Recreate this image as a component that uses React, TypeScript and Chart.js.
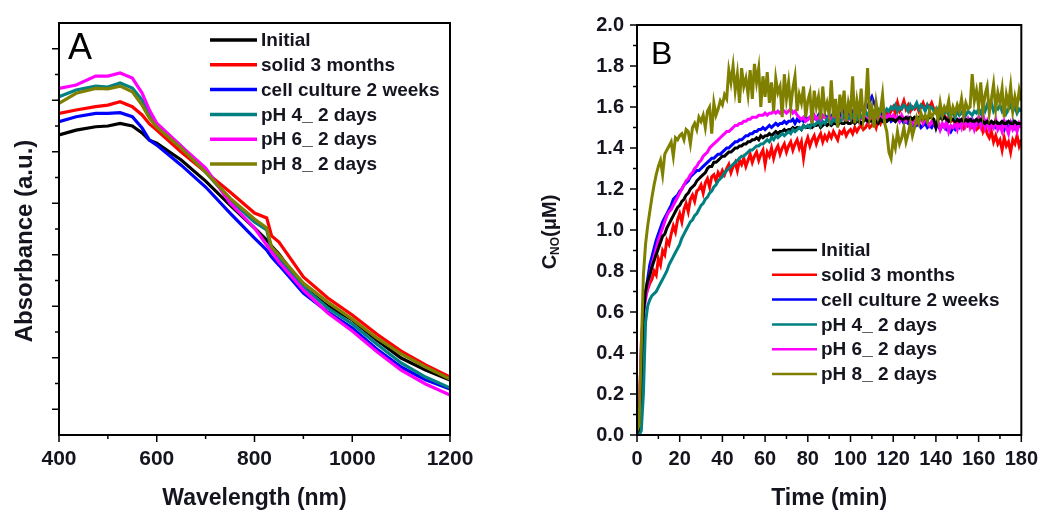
import React, { useEffect, useRef } from 'react';
import { Chart, registerables } from 'chart.js';

Chart.register(...registerables);

// ---------------- Panel A : absorbance spectra ----------------
const wavelengthNm = [400, 435, 475, 500, 525, 550, 570, 585, 600, 650, 700, 750, 800, 825, 835, 850, 900, 950, 1000, 1050, 1100, 1150, 1200];
const absInitial = [1.165, 1.184, 1.197, 1.2, 1.21, 1.2, 1.173, 1.145, 1.133, 1.068, 0.986, 0.893, 0.804, 0.757, 0.734, 0.703, 0.575, 0.501, 0.447, 0.369, 0.299, 0.252, 0.214];
const absSolid3Months = [1.249, 1.262, 1.275, 1.281, 1.294, 1.275, 1.243, 1.208, 1.184, 1.099, 1.021, 0.944, 0.862, 0.843, 0.773, 0.749, 0.614, 0.532, 0.466, 0.392, 0.326, 0.272, 0.225];
const absCellCulture = [1.217, 1.236, 1.249, 1.249, 1.252, 1.236, 1.192, 1.145, 1.126, 1.048, 0.963, 0.862, 0.765, 0.718, 0.691, 0.66, 0.551, 0.478, 0.415, 0.334, 0.264, 0.214, 0.179];
const absPH4 = [1.314, 1.34, 1.355, 1.351, 1.367, 1.347, 1.301, 1.243, 1.208, 1.122, 1.021, 0.913, 0.827, 0.796, 0.718, 0.687, 0.575, 0.493, 0.431, 0.353, 0.28, 0.225, 0.183];
const absPH6 = [1.346, 1.359, 1.394, 1.394, 1.406, 1.386, 1.328, 1.262, 1.211, 1.122, 1.037, 0.901, 0.804, 0.738, 0.711, 0.672, 0.563, 0.474, 0.404, 0.324, 0.252, 0.198, 0.155];
const absPH8 = [1.288, 1.327, 1.346, 1.344, 1.355, 1.333, 1.281, 1.231, 1.196, 1.114, 1.021, 0.92, 0.839, 0.804, 0.73, 0.699, 0.59, 0.516, 0.45, 0.377, 0.315, 0.264, 0.217];

const absXMajor = [400, 600, 800, 1000, 1200];
const absXMinor = [500, 700, 900, 1100];
const absYMajor = [0.1, 0.3, 0.5, 0.7, 0.9, 1.1, 1.3, 1.5];
const absYMinor = [0.2, 0.4, 0.6, 0.8, 1.0, 1.2, 1.4];

// ---------------- Panel B : NO release ----------------
const timeStepMin = 1;
const noInitial = [
  0.0, 0.03, 0.28, 0.6, 0.7, 0.75, 0.78, 0.82, 0.85, 0.88,
  0.91, 0.94, 0.97, 0.98, 1.01, 1.03, 1.05, 1.07, 1.09, 1.11,
  1.12, 1.14, 1.15, 1.17, 1.18, 1.2, 1.21, 1.22, 1.24, 1.25,
  1.26, 1.27, 1.28, 1.3, 1.31, 1.31, 1.33, 1.33, 1.34, 1.35,
  1.36, 1.36, 1.37, 1.38, 1.38, 1.39, 1.4, 1.4, 1.41, 1.41,
  1.42, 1.42, 1.43, 1.43, 1.44, 1.44, 1.45, 1.44, 1.46, 1.45,
  1.46, 1.46, 1.47, 1.46, 1.47, 1.48, 1.47, 1.48, 1.48, 1.49,
  1.48, 1.49, 1.49, 1.5, 1.49, 1.5, 1.5, 1.49, 1.51, 1.5,
  1.5, 1.51, 1.5, 1.51, 1.51, 1.52, 1.5, 1.51, 1.52, 1.51,
  1.52, 1.51, 1.52, 1.52, 1.51, 1.53, 1.52, 1.52, 1.53, 1.52,
  1.52, 1.53, 1.52, 1.53, 1.53, 1.52, 1.53, 1.54, 1.53, 1.53,
  1.53, 1.54, 1.53, 1.52, 1.54, 1.53, 1.54, 1.53, 1.54, 1.54,
  1.54, 1.53, 1.54, 1.55, 1.54, 1.54, 1.55, 1.54, 1.55, 1.54,
  1.55, 1.54, 1.55, 1.55, 1.54, 1.55, 1.54, 1.55, 1.55, 1.54,
  1.5, 1.54, 1.55, 1.54, 1.55, 1.54, 1.53, 1.54, 1.54, 1.53,
  1.54, 1.53, 1.54, 1.53, 1.54, 1.53, 1.54, 1.53, 1.53, 1.54,
  1.53, 1.54, 1.53, 1.52, 1.53, 1.52, 1.53, 1.52, 1.53, 1.52,
  1.52, 1.53, 1.52, 1.52, 1.53, 1.52, 1.52, 1.53, 1.52, 1.52,
  1.52,
];
const noSolid3Months = [
  0.0, 0.12, 0.4, 0.62, 0.68, 0.71, 0.74, 0.76, 0.8, 0.78,
  0.86, 0.83, 0.9, 0.88, 0.95, 0.93, 0.98, 1.02, 0.99, 1.05,
  1.08, 1.04, 1.1, 1.13, 1.09, 1.15, 1.17, 1.14, 1.19, 1.2,
  1.22, 1.18, 1.23, 1.25, 1.21, 1.26, 1.27, 1.24, 1.28, 1.26,
  1.29, 1.27, 1.3, 1.32, 1.28, 1.31, 1.33, 1.29, 1.34, 1.32,
  1.35, 1.31, 1.34, 1.37, 1.33, 1.36, 1.38, 1.34, 1.37, 1.39,
  1.32, 1.38, 1.36, 1.4, 1.35, 1.39, 1.41, 1.37, 1.4, 1.42,
  1.38, 1.41, 1.43, 1.39, 1.42, 1.44, 1.4, 1.43, 1.35, 1.42,
  1.45, 1.41, 1.44, 1.46, 1.42, 1.45, 1.47, 1.43, 1.46, 1.44,
  1.47, 1.45, 1.48, 1.46, 1.44, 1.48, 1.47, 1.49, 1.46, 1.48,
  1.49, 1.47, 1.5, 1.48, 1.5, 1.51, 1.49, 1.5, 1.52, 1.5,
  1.51, 1.53, 1.5, 1.54, 1.52, 1.55, 1.53, 1.57, 1.56, 1.58,
  1.6, 1.57, 1.62, 1.58, 1.6, 1.63, 1.59, 1.61, 1.58, 1.6,
  1.59, 1.61, 1.58, 1.6, 1.62, 1.59, 1.61, 1.6, 1.62, 1.59,
  1.58, 1.56, 1.57, 1.55, 1.56, 1.54, 1.55, 1.53, 1.54, 1.52,
  1.53, 1.51, 1.52, 1.5, 1.53, 1.51, 1.52, 1.5, 1.51, 1.49,
  1.5, 1.52, 1.48, 1.51, 1.47, 1.45, 1.48, 1.43, 1.46, 1.42,
  1.44, 1.39, 1.45, 1.41, 1.43, 1.38, 1.44, 1.42, 1.46, 1.41,
  1.44,
];
const noCellCulture = [
  0.0, 0.02, 0.2, 0.58, 0.69, 0.76, 0.83, 0.87, 0.91, 0.95,
  0.98, 1.01, 1.04, 1.06, 1.08, 1.1, 1.12, 1.15, 1.16, 1.17,
  1.19, 1.2, 1.22, 1.23, 1.24, 1.26, 1.27, 1.28, 1.29, 1.29,
  1.3, 1.31, 1.32, 1.33, 1.34, 1.35, 1.35, 1.36, 1.37, 1.37,
  1.38, 1.39, 1.4, 1.4, 1.41, 1.42, 1.43, 1.43, 1.44, 1.44,
  1.45, 1.46, 1.46, 1.47, 1.47, 1.48, 1.48, 1.49, 1.49, 1.5,
  1.49, 1.5, 1.51, 1.5, 1.51, 1.52, 1.51, 1.52, 1.52, 1.53,
  1.52, 1.53, 1.53, 1.54, 1.52, 1.54, 1.53, 1.54, 1.53, 1.55,
  1.54, 1.55, 1.53, 1.55, 1.54, 1.56, 1.54, 1.55, 1.56, 1.54,
  1.56, 1.55, 1.57, 1.55, 1.56, 1.57, 1.55, 1.58, 1.56, 1.57,
  1.56, 1.58, 1.57, 1.59, 1.57, 1.6, 1.58, 1.61, 1.6, 1.63,
  1.65, 1.62, 1.6, 1.57, 1.58, 1.55, 1.56, 1.54, 1.55, 1.53,
  1.54, 1.53, 1.55, 1.53, 1.54, 1.52, 1.53, 1.52, 1.53, 1.51,
  1.52, 1.51, 1.52, 1.5, 1.51, 1.52, 1.5, 1.51, 1.5, 1.52,
  1.5, 1.51, 1.49, 1.51, 1.5, 1.49, 1.5, 1.48, 1.5, 1.49,
  1.51, 1.5, 1.52, 1.5, 1.53, 1.51, 1.52, 1.54, 1.52, 1.53,
  1.51, 1.52, 1.5, 1.53, 1.51, 1.52, 1.5, 1.51, 1.5, 1.52,
  1.5, 1.51, 1.49, 1.52, 1.5, 1.51, 1.53, 1.5, 1.52, 1.51,
  1.52,
];
const noPH4 = [
  0.0, 0.0, 0.02, 0.2, 0.55, 0.63, 0.66, 0.68, 0.69, 0.7,
  0.72, 0.74, 0.76, 0.78, 0.8, 0.83, 0.85, 0.87, 0.89, 0.91,
  0.93, 0.96, 0.98, 1.0, 1.02, 1.04, 1.05, 1.07, 1.08, 1.1,
  1.12, 1.13, 1.15, 1.16, 1.18, 1.19, 1.21, 1.22, 1.24, 1.25,
  1.26, 1.28, 1.29, 1.3, 1.31, 1.32, 1.33, 1.34, 1.35, 1.36,
  1.36, 1.37, 1.38, 1.39, 1.39, 1.4, 1.41, 1.41, 1.42, 1.42,
  1.43, 1.44, 1.43, 1.45, 1.44, 1.46, 1.45, 1.46, 1.47, 1.46,
  1.47, 1.48, 1.47, 1.49, 1.48, 1.49, 1.5, 1.49, 1.51, 1.5,
  1.51, 1.5, 1.52, 1.51, 1.52, 1.53, 1.51, 1.53, 1.52, 1.54,
  1.53, 1.52, 1.54, 1.53, 1.55, 1.53, 1.54, 1.56, 1.54, 1.55,
  1.54, 1.56, 1.55, 1.54, 1.57, 1.55, 1.56, 1.58, 1.56, 1.57,
  1.56, 1.58, 1.57, 1.59, 1.58, 1.6, 1.57, 1.59, 1.58, 1.6,
  1.59, 1.61, 1.58, 1.6, 1.59, 1.61, 1.6, 1.58, 1.61, 1.59,
  1.6, 1.62, 1.59, 1.61, 1.6, 1.58, 1.61, 1.59, 1.6, 1.58,
  1.57, 1.59, 1.56, 1.58, 1.57, 1.59, 1.56, 1.58, 1.57, 1.55,
  1.58, 1.56, 1.57, 1.59, 1.56, 1.58, 1.57, 1.56, 1.58, 1.57,
  1.59, 1.57, 1.6, 1.58, 1.61, 1.59, 1.62, 1.58, 1.6, 1.59,
  1.61, 1.58, 1.6, 1.57, 1.59, 1.61, 1.58, 1.6, 1.57, 1.59,
  1.58,
];
const noPH6 = [
  0.0, 0.08, 0.45, 0.6, 0.66, 0.72, 0.78, 0.83, 0.87, 0.91,
  0.95, 0.98, 1.01, 1.04, 1.07, 1.09, 1.1, 1.12, 1.14, 1.16,
  1.18, 1.2, 1.22, 1.24, 1.25, 1.27, 1.28, 1.3, 1.31, 1.33,
  1.34, 1.36, 1.37, 1.38, 1.4, 1.41, 1.42, 1.43, 1.44, 1.45,
  1.46, 1.47, 1.48, 1.48, 1.49, 1.5, 1.51, 1.51, 1.52, 1.52,
  1.53, 1.53, 1.54, 1.54, 1.55, 1.55, 1.55, 1.56, 1.56, 1.56,
  1.57, 1.56, 1.57, 1.57, 1.58, 1.57, 1.58, 1.57, 1.58, 1.58,
  1.57, 1.58, 1.59, 1.57, 1.58, 1.56, 1.55, 1.54, 1.55, 1.53,
  1.54, 1.55, 1.53, 1.56, 1.54, 1.55, 1.53, 1.56, 1.55, 1.54,
  1.55, 1.53, 1.56, 1.54, 1.55, 1.53, 1.55, 1.54, 1.56, 1.54,
  1.55, 1.53, 1.54, 1.56, 1.53, 1.55, 1.54, 1.55, 1.53, 1.56,
  1.54, 1.55, 1.53, 1.56, 1.54, 1.55, 1.57, 1.54, 1.56, 1.55,
  1.56, 1.54, 1.55, 1.53, 1.56, 1.54, 1.53, 1.55, 1.54, 1.52,
  1.54, 1.52, 1.53, 1.55, 1.52, 1.54, 1.53, 1.51, 1.53, 1.52,
  1.5, 1.53, 1.49, 1.52, 1.5, 1.53, 1.48, 1.51, 1.5, 1.52,
  1.49, 1.53, 1.5, 1.55, 1.51, 1.54, 1.5, 1.53, 1.49, 1.52,
  1.55, 1.51, 1.57, 1.5, 1.53, 1.49, 1.52, 1.5, 1.54, 1.49,
  1.51, 1.48, 1.53, 1.5, 1.47, 1.52, 1.49, 1.51, 1.48, 1.52,
  1.5,
];
const noPH8 = [
  0.02, 0.05, 0.42, 0.78, 0.93, 1.02, 1.09, 1.16, 1.22, 1.27,
  1.31, 1.34, 1.27, 1.37, 1.39, 1.41, 1.43, 1.36, 1.45, 1.44,
  1.46, 1.47, 1.44, 1.49, 1.48, 1.42, 1.5, 1.52, 1.49, 1.55,
  1.53, 1.56, 1.5, 1.58, 1.6, 1.47, 1.62, 1.56, 1.59, 1.63,
  1.61, 1.66, 1.64, 1.78, 1.72, 1.8, 1.68, 1.76, 1.62, 1.79,
  1.7, 1.74, 1.66, 1.78, 1.64, 1.81, 1.72, 1.79, 1.6, 1.75,
  1.65, 1.77, 1.62, 1.72, 1.58, 1.74, 1.67, 1.7, 1.55, 1.76,
  1.64, 1.72, 1.6, 1.69, 1.75, 1.58, 1.66, 1.62, 1.7, 1.55,
  1.63, 1.67, 1.52, 1.68, 1.6, 1.65, 1.54, 1.7, 1.58, 1.62,
  1.56, 1.73, 1.55, 1.64, 1.5, 1.66, 1.58, 1.68, 1.53, 1.62,
  1.57, 1.75, 1.52, 1.63, 1.56, 1.69, 1.54, 1.6, 1.79, 1.55,
  1.6, 1.5, 1.62, 1.55, 1.58, 1.66, 1.52, 1.48, 1.38, 1.35,
  1.44, 1.4, 1.48, 1.42, 1.45, 1.5, 1.43, 1.47, 1.52, 1.46,
  1.5, 1.55, 1.52, 1.57, 1.54, 1.56, 1.53, 1.58, 1.55, 1.57,
  1.59, 1.54, 1.62, 1.56, 1.6, 1.58, 1.63, 1.55, 1.6, 1.57,
  1.61, 1.58, 1.64, 1.56, 1.62, 1.59, 1.6, 1.76, 1.63, 1.68,
  1.6, 1.72, 1.58, 1.66, 1.7, 1.57, 1.64, 1.71, 1.59, 1.67,
  1.62, 1.69, 1.55, 1.66, 1.61, 1.7, 1.58, 1.65, 1.6, 1.68,
  1.63,
];

const noXMajor = [0, 20, 40, 60, 80, 100, 120, 140, 160, 180];
const noXMinor = [10, 30, 50, 70, 90, 110, 130, 150, 170];
const noYMajor = [0, 0.2, 0.4, 0.6, 0.8, 1.0, 1.2, 1.4, 1.6, 1.8, 2.0];
const noYMinor = [0.1, 0.3, 0.5, 0.7, 0.9, 1.1, 1.3, 1.5, 1.7, 1.9];

const seriesLabels = ['Initial', 'solid 3 months', 'cell culture 2 weeks', 'pH 4_ 2 days', 'pH 6_ 2 days', 'pH 8_ 2 days'];
const seriesColors = ['#000000', '#FF0000', '#0000FF', '#008080', '#FF00FF', '#808000'];

const FONT = "'Liberation Sans', Arial, sans-serif";
const TEXT = '#151520';

type Deco = {
  xMajor: number[]; xMinor: number[]; yMajor: number[]; yMinor: number[];
  letter: string; letterFont: string; letterDx: number; letterDy: number;
  legendDx: number; legendDy: number; legendLine: number; legendLineW: number;
  xTitle: string; xTitleY: number;
  yTitle: (ctx: CanvasRenderingContext2D) => void;
};

function makeDeco(d: Deco) {
  return {
    id: 'deco',
    afterDraw(chart: any) {
      const ctx: CanvasRenderingContext2D = chart.ctx;
      const { left, right, top, bottom } = chart.chartArea;
      const xs = chart.scales.x;
      const ys = chart.scales.y;
      ctx.save();
      ctx.strokeStyle = '#000';
      ctx.lineWidth = 2;
      ctx.strokeRect(left, top, right - left, bottom - top);
      ctx.lineWidth = 1.5;
      ctx.beginPath();
      d.xMajor.forEach((v) => { const p = xs.getPixelForValue(v); ctx.moveTo(p, bottom); ctx.lineTo(p, bottom + 7); });
      d.xMinor.forEach((v) => { const p = xs.getPixelForValue(v); ctx.moveTo(p, bottom); ctx.lineTo(p, bottom + 4); });
      d.yMajor.forEach((v) => { const p = ys.getPixelForValue(v); ctx.moveTo(left, p); ctx.lineTo(left - 7, p); });
      d.yMinor.forEach((v) => { const p = ys.getPixelForValue(v); ctx.moveTo(left, p); ctx.lineTo(left - 4, p); });
      ctx.stroke();

      // panel letter
      ctx.fillStyle = '#000';
      ctx.font = d.letterFont;
      ctx.textAlign = 'left';
      ctx.textBaseline = 'alphabetic';
      ctx.fillText(d.letter, left + d.letterDx, top + d.letterDy);

      // legend
      ctx.font = `bold 19px ${FONT}`;
      ctx.textBaseline = 'middle';
      chart.data.datasets.forEach((ds: any, i: number) => {
        const y = top + d.legendDy + i * 24.8;
        const x0 = left + d.legendDx;
        ctx.strokeStyle = ds.borderColor;
        ctx.lineWidth = d.legendLineW;
        ctx.beginPath();
        ctx.moveTo(x0, y);
        ctx.lineTo(x0 + d.legendLine, y);
        ctx.stroke();
        ctx.fillStyle = TEXT;
        ctx.fillText(ds.label, x0 + d.legendLine + 4, y + 1);
      });

      // x title
      ctx.font = `bold 23px ${FONT}`;
      ctx.textAlign = 'center';
      ctx.textBaseline = 'middle';
      ctx.fillStyle = TEXT;
      ctx.fillText(d.xTitle, (left + right) / 2, d.xTitleY);

      d.yTitle(ctx);
      ctx.restore();
    },
  };
}

function lineDataset(label: string, color: string, xs: number[], ys: number[], width: number, order: number) {
  return {
    label,
    data: ys.map((v, i) => ({ x: xs[i], y: v })),
    borderColor: color,
    backgroundColor: color,
    borderWidth: width,
    pointRadius: 0,
    tension: 0,
    fill: false,
    order,
  };
}

function axisX(min: number, max: number, major: number[], height: number, size: number, pad: number) {
  return {
    type: 'linear',
    min, max,
    afterBuildTicks: (s: any) => { s.ticks = major.map((v) => ({ value: v })); },
    afterFit: (s: any) => { s.height = height; },
    grid: { display: false, drawTicks: false },
    border: { display: false },
    ticks: {
      autoSkip: false, maxRotation: 0, padding: pad, color: TEXT,
      font: { size, weight: 'bold', family: FONT },
      callback: (v: any) => String(v),
    },
  };
}

export default function App() {
  const refA = useRef<HTMLCanvasElement>(null);
  const refB = useRef<HTMLCanvasElement>(null);

  useEffect(() => {
    Chart.defaults.font.family = FONT;

    const absSeries = [absInitial, absSolid3Months, absCellCulture, absPH4, absPH6, absPH8];
    const chartA = new Chart(refA.current as HTMLCanvasElement, {
      type: 'line',
      data: {
        datasets: absSeries.map((s, i) => lineDataset(seriesLabels[i], seriesColors[i], wavelengthNm, s, 3.2, 5 - i)),
      },
      options: {
        animation: false,
        responsive: true,
        maintainAspectRatio: false,
        layout: { padding: { left: 0, right: 70, top: 23, bottom: 0 } },
        plugins: { legend: { display: false }, tooltip: { enabled: false } },
        scales: {
          x: axisX(400, 1200, absXMajor, 77, 21, 12),
          y: {
            type: 'linear', min: 0, max: 1.6,
            afterFit: (s: any) => { s.width = 59; },
            grid: { display: false, drawTicks: false },
            border: { display: false },
            ticks: { display: false },
          },
        },
      } as any,
      plugins: [makeDeco({
        xMajor: absXMajor, xMinor: absXMinor, yMajor: absYMajor, yMinor: absYMinor,
        letter: 'A', letterFont: `36px ${FONT}`, letterDx: 9, letterDy: 36,
        legendDx: 151, legendDy: 17, legendLine: 47, legendLineW: 3.5,
        xTitle: 'Wavelength (nm)', xTitleY: 499,
        yTitle: (ctx) => {
          ctx.save();
          ctx.translate(25, 241);
          ctx.rotate(-Math.PI / 2);
          ctx.font = `bold 24px ${FONT}`;
          ctx.textAlign = 'center';
          ctx.textBaseline = 'middle';
          ctx.fillStyle = TEXT;
          ctx.fillText('Absorbance (a.u.)', 0, 0);
          ctx.restore();
        },
      })],
    } as any);

    const noSeries = [noInitial, noSolid3Months, noCellCulture, noPH4, noPH6, noPH8];
    const noOrder = [2, 4, 5, 1, 3, 0];
    const chartB = new Chart(refB.current as HTMLCanvasElement, {
      type: 'line',
      data: {
        datasets: noSeries.map((s, i) => lineDataset(seriesLabels[i], seriesColors[i], s.map((_, k) => k * timeStepMin), s, 3, noOrder[i])),
      },
      options: {
        animation: false,
        responsive: true,
        maintainAspectRatio: false,
        layout: { padding: { left: 0, right: 28, top: 23, bottom: 0 } },
        plugins: { legend: { display: false }, tooltip: { enabled: false } },
        scales: {
          x: axisX(0, 180, noXMajor, 77, 20, 12),
          y: {
            type: 'linear', min: 0, max: 2,
            afterBuildTicks: (s: any) => { s.ticks = noYMajor.map((v) => ({ value: v })); },
            afterFit: (s: any) => { s.width = 117; },
            grid: { display: false, drawTicks: false },
            border: { display: false },
            ticks: {
              padding: 13, color: TEXT, font: { size: 20, weight: 'bold', family: FONT },
              callback: (v: any) => Number(v).toFixed(1),
            },
          },
        },
      } as any,
      plugins: [makeDeco({
        xMajor: noXMajor, xMinor: noXMinor, yMajor: noYMajor, yMinor: noYMinor,
        letter: 'B', letterFont: `32px ${FONT}`, letterDx: 14, letterDy: 39,
        legendDx: 135, legendDy: 225, legendLine: 45, legendLineW: 2.5,
        xTitle: 'Time (min)', xTitleY: 499,
        yTitle: (ctx) => {
          ctx.save();
          ctx.translate(30, 232);
          ctx.rotate(-Math.PI / 2);
          ctx.fillStyle = TEXT;
          ctx.textBaseline = 'middle';
          ctx.textAlign = 'left';
          const big = `bold 20px ${FONT}`;
          const small = `bold 12px ${FONT}`;
          ctx.font = big;
          const wC = ctx.measureText('C').width;
          const wU = ctx.measureText('(μM)').width;
          ctx.font = small;
          const wN = ctx.measureText('NO').width;
          let x = -(wC + wN + wU) / 2;
          ctx.font = big;
          ctx.fillText('C', x, 0);
          x += wC;
          ctx.font = small;
          ctx.fillText('NO', x, 6);
          x += wN;
          ctx.font = big;
          ctx.fillText('(μM)', x, 0);
          ctx.restore();
        },
      })],
    } as any);

    return () => {
      chartA.destroy();
      chartB.destroy();
    };
  }, []);

  return (
    <div style={{ position: 'fixed', left: 0, top: 0, width: 1050, height: 512, background: '#ffffff' }}>
      <div style={{ position: 'absolute', left: 0, top: 0, width: 520, height: 512 }}>
        <canvas ref={refA} />
      </div>
      <div style={{ position: 'absolute', left: 520, top: 0, width: 530, height: 512 }}>
        <canvas ref={refB} />
      </div>
    </div>
  );
}
